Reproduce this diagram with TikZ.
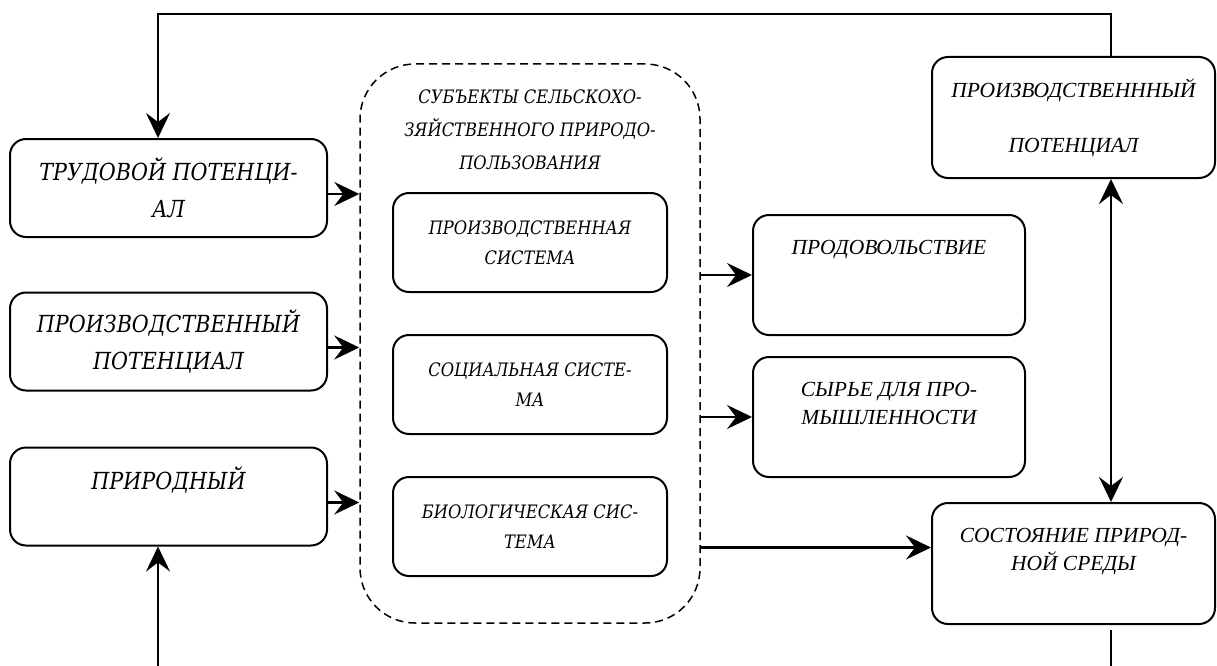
\documentclass[tikz,border=0pt]{standalone}
\usepackage{fontspec}
\setmainfont{Liberation Serif}
\newfontfamily\cambfont{DejaVu Serif}[FakeStretch=0.88]
\usetikzlibrary{positioning,arrows.meta}

\tikzset{
  box/.style={draw, line width=2pt, rounded corners=16pt, align=center, inner sep=0pt},
  leftbox/.style={box, minimum width=317pt, minimum height=98pt, font=\cambfont\itshape\fontsize{23.5}{37}\selectfont},
  subbox/.style={box, minimum width=274pt, minimum height=99pt, font=\cambfont\itshape\fontsize{18.5}{30}\selectfont},
  outbox/.style={box, minimum width=272pt, minimum height=120pt, font=\itshape\fontsize{21.5}{28}\selectfont},
  rightbox/.style={outbox, minimum width=283pt, minimum height=121pt},
  arr/.style={line width=2.5pt, -{Stealth[length=25pt,width=24pt,inset=9pt]}},
  dblarr/.style={line width=2.5pt, {Stealth[length=25pt,width=24pt,inset=9pt]}-{Stealth[length=25pt,width=24pt,inset=9pt]}},
}

\begin{document}
\begin{tikzpicture}[x=1pt,y=-1pt]
    \useasboundingbox (0,0) rectangle (1217,666);

    % Resources
    \node[leftbox] (trud) at (168.5,188) {ТРУДОВОЙ ПОТЕНЦИ-\\АЛ};
    \node[leftbox] (proizv) at (168.5,341.5) {ПРОИЗВОДСТВЕННЫЙ\\ПОТЕНЦИАЛ};
    \node[leftbox] (prir) at (168.5,496.5) {ПРИРОДНЫЙ\\~};

    % Subjects of land use
    \node[draw, line width=1.5pt, dash pattern=on 8pt off 5pt, rounded corners=55pt,
          minimum width=340pt, minimum height=559pt] (subj) at (530,343.5) {};
    \node[align=center, font=\cambfont\itshape\fontsize{18.5}{33}\selectfont] (subjtitle) at (530,130)
        {СУБЪЕКТЫ СЕЛЬСКОХО-\\ЗЯЙСТВЕННОГО ПРИРОДО-\\ПОЛЬЗОВАНИЯ};
    \node[subbox] (prodsys) at (530,242.5) {ПРОИЗВОДСТВЕННАЯ\\СИСТЕМА};
    \node[subbox] (socsys) at (530,384.5) {СОЦИАЛЬНАЯ СИСТЕ-\\МА};
    \node[subbox] (biosys) at (530,526.5) {БИОЛОГИЧЕСКАЯ СИС-\\ТЕМА};

    % Results
    \node[outbox] (food) at (889,275) {ПРОДОВОЛЬСТВИЕ\\~\\~};
    \node[outbox] (raw) at (889,417) {СЫРЬЕ ДЛЯ ПРО-\\МЫШЛЕННОСТИ\\~};
    \node[rightbox] (potent) at (1073.5,117.5) {ПРОИЗВОДСТВЕНННЫЙ\\[27pt]ПОТЕНЦИАЛ};
    \node[rightbox] (env) at (1073.5,563.5) {СОСТОЯНИЕ ПРИРОД-\\НОЙ СРЕДЫ\\~};

    \coordinate (inl) at (158,666);
    \coordinate (outr) at (1111,666);

    % Arrows
    \foreach \n in {trud, proizv, prir} {
        \draw[arr] ([yshift=-6pt]\n.east) -- ([yshift=-6pt]\n.east -| subj.west);
    }
    \draw[arr] (subj.east |- food.west) -- (food.west);
    \draw[arr] (subj.east |- raw.west) -- (raw.west);
    \draw[arr] ([yshift=16pt]env.west -| subj.east) -- ([yshift=16pt]env.west);
    \draw[dblarr] ([xshift=37.5pt]potent.south) -- ([xshift=37.5pt]env.north);

    % Feedback
    \draw[arr, line width=2pt] ([xshift=37.5pt]potent.north) -- ++(0,-42) -| ([xshift=-10.5pt]trud.north);
    \draw[arr] (inl) -- ([xshift=-10.5pt]prir.south);
    \draw[line width=2pt] ([xshift=37.5pt,yshift=-5pt]env.south) -- (outr);
\end{tikzpicture}
\end{document}
